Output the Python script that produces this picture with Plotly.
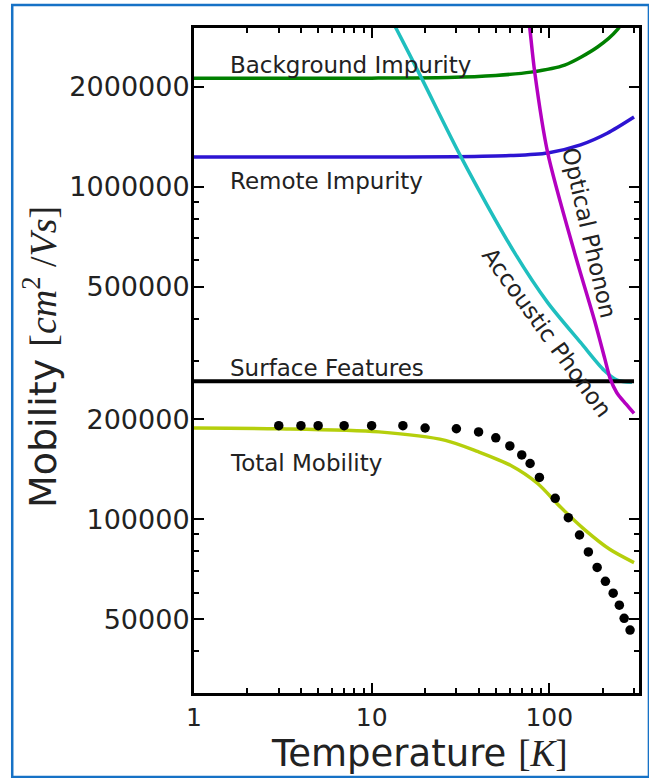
import math
import plotly.graph_objects as go

# ---------------- data ----------------
T_bg = [1, 10, 27, 50, 79, 122, 187, 241, 300]
mu_bg = [2.12e6, 2.12e6, 2.13e6, 2.16e6, 2.21e6, 2.32e6, 2.63e6, 2.96e6, 3.6e6]

T_rem = [1, 10, 30, 60, 98, 150, 212, 300]
mu_rem = [1.227e6, 1.227e6, 1.23e6, 1.24e6, 1.263e6, 1.336e6, 1.448e6, 1.62e6]

T_ac = [10, 13.7, 19.1, 31.9, 64, 98, 150, 204, 241, 292]
mu_ac = [4.1e6, 3.0e6, 2.12e6, 1.227e6, 6.31e5, 4.48e5, 3.4e5, 2.8e5, 2.62e5, 2.58e5]

T_sf = [1, 300]
mu_sf = [2.6e5, 2.6e5]

T_op = [74, 77.7, 82.8, 98, 139, 179.5, 205, 220, 240, 270, 300]
mu_op = [3.8e6, 3.0e6, 2.21e6, 1.263e6, 6.31e5, 3.97e5, 3.05e5, 2.65e5, 2.4e5, 2.22e5, 2.08e5]

T_tot = [1, 3, 11, 26, 39.8, 60.8, 86, 116, 158, 220, 300]
mu_tot = [1.88e5, 1.87e5, 1.83e5, 1.726e5, 1.595e5, 1.45e5, 1.28e5, 1.085e5, 9.3e4, 8.1e4, 7.4e4]

T_exp = [3, 4, 5, 7, 10, 15, 20, 30, 40, 50, 60, 70, 78, 88, 108, 128, 148,
         166, 186, 207, 229, 248, 264, 285]
mu_exp = [1.91e5, 1.91e5, 1.91e5, 1.91e5, 1.91e5, 1.91e5, 1.88e5, 1.87e5, 1.83e5,
          1.756e5, 1.66e5, 1.56e5, 1.47e5, 1.335e5, 1.155e5, 1.01e5, 8.96e4,
          7.97e4, 7.16e4, 6.5e4, 5.99e4, 5.51e4, 5.03e4, 4.64e4]

x_major = [1, 10, 100]
x_major_text = ["1", "10", "100"]
x_minor = [2, 3, 4, 5, 6, 7, 8, 9, 20, 30, 40, 50, 60, 70, 80, 90, 200, 300]
y_major = [5e4, 1e5, 2e5, 5e5, 1e6, 2e6]
y_major_text = ["50000", "100000", "200000", "500000", "1000000", "2000000"]
y_minor = [3e4, 4e4, 6e4, 7e4, 8e4, 9e4, 3e5, 4e5, 6e5, 7e5, 8e5, 9e5, 3e6]

FONT = "DejaVu Sans"
TXT = "#222222"
LW = 3.5


def smooth(color, width=LW):
    return dict(color=color, width=width, shape="spline", smoothing=0.8)


fig = go.Figure()
fig.add_trace(go.Scatter(x=T_bg, y=mu_bg, mode="lines", line=smooth("#008000")))
fig.add_trace(go.Scatter(x=T_rem, y=mu_rem, mode="lines", line=smooth("#2d14d2")))
fig.add_trace(go.Scatter(x=T_ac, y=mu_ac, mode="lines", line=smooth("#1fbfbf")))
fig.add_trace(go.Scatter(x=T_sf, y=mu_sf, mode="lines", line=dict(color="#000000", width=4)))
fig.add_trace(go.Scatter(x=T_op, y=mu_op, mode="lines", line=smooth("#b400c0")))
fig.add_trace(go.Scatter(x=T_tot, y=mu_tot, mode="lines", line=smooth("#b5cf0c")))
fig.add_trace(go.Scatter(x=T_exp, y=mu_exp, mode="markers",
                         marker=dict(color="#000000", size=9.5)))

axis_common = dict(
    showgrid=False, zeroline=False, showline=True, linecolor="#000000",
    linewidth=3, mirror="ticks", ticks="inside", ticklen=10, tickwidth=2,
    tickcolor="#000000",
)

fig.update_xaxes(
    type="log", range=[0, math.log10(320)],
    tickmode="array", tickvals=x_major, ticktext=x_major_text,
    tickfont=dict(family=FONT, size=25, color=TXT),
    minor=dict(tickmode="array", tickvals=x_minor, ticks="inside", ticklen=5,
               tickwidth=1.5, tickcolor="#000000", showgrid=False),
    **axis_common,
)
fig.update_yaxes(
    type="log", range=[math.log10(3e4), math.log10(3e6)],
    tickmode="array", tickvals=y_major, ticktext=y_major_text,
    tickfont=dict(family=FONT, size=27, color=TXT),
    ticklabelstandoff=-4,
    minor=dict(tickmode="array", tickvals=y_minor, ticks="inside", ticklen=5,
               tickwidth=1.5, tickcolor="#000000", showgrid=False),
    **axis_common,
)

W, H = 649, 778
L, R, T, B = 194, 7, 28, 85
pw, ph = W - L - R, H - T - B


def px(xp):
    return (xp - L) / pw


def py(yp):
    return (H - B - yp) / ph


ann_font = dict(family=FONT, size=23, color=TXT)
annotations = [
    dict(text="Background Impurity", x=px(228), y=py(65), xanchor="left", yanchor="middle"),
    dict(text="Remote Impurity", x=px(228), y=py(181), xanchor="left", yanchor="middle"),
    dict(text="Surface Features", x=px(228), y=py(368), xanchor="left", yanchor="middle"),
    dict(text="Total Mobility", x=px(228), y=py(463), xanchor="left", yanchor="middle"),
    dict(text="Optical Phonon", x=px(592), y=py(233), xanchor="center", yanchor="middle",
         textangle=77),
    dict(text="Accoustic Phonon", x=px(549), y=py(332), xanchor="center", yanchor="middle",
         textangle=54),
]
for a in annotations:
    a.update(xref="paper", yref="paper", showarrow=False, font=ann_font)

SER = "font-family:'Liberation Serif'"
SERI = "font-family:'Liberation Serif';font-style:italic"
annotations.append(dict(
    text=(f"Mobility <span style=\"{SER}\">[</span>"
          f"<span style=\"{SERI}\">cm</span><sup><span style=\"{SER}\">2</span></sup>"
          f"<span style=\"{SER}\"> /</span><span style=\"{SERI}\">Vs</span>"
          f"<span style=\"{SER}\">]</span>"),
    x=px(39), y=py(357), xref="paper", yref="paper", showarrow=False,
    textangle=-90, xanchor="center", yanchor="middle",
    font=dict(family=FONT, size=38, color=TXT),
))
annotations.append(dict(
    text=(f"Temperature <span style=\"{SER}\">[</span>"
          f"<span style=\"{SERI}\">K</span>"
          f"<span style=\"{SER}\">]</span>"),
    x=px(421), y=py(753), xref="paper", yref="paper", showarrow=False,
    xanchor="center", yanchor="middle",
    font=dict(family=FONT, size=37, color=TXT),
))

fig.update_layout(
    width=W, height=H,
    margin=dict(l=L, r=R, t=T, b=B, pad=0),
    paper_bgcolor="white", plot_bgcolor="white",
    showlegend=False,
    annotations=annotations,
    shapes=[dict(type="rect", xref="paper", yref="paper",
                 x0=px(11), x1=px(652), y0=py(777), y1=py(5),
                 line=dict(color="#1672c6", width=2.5), fillcolor="rgba(0,0,0,0)",
                 layer="below")],
)

fig.write_html("out.html")
